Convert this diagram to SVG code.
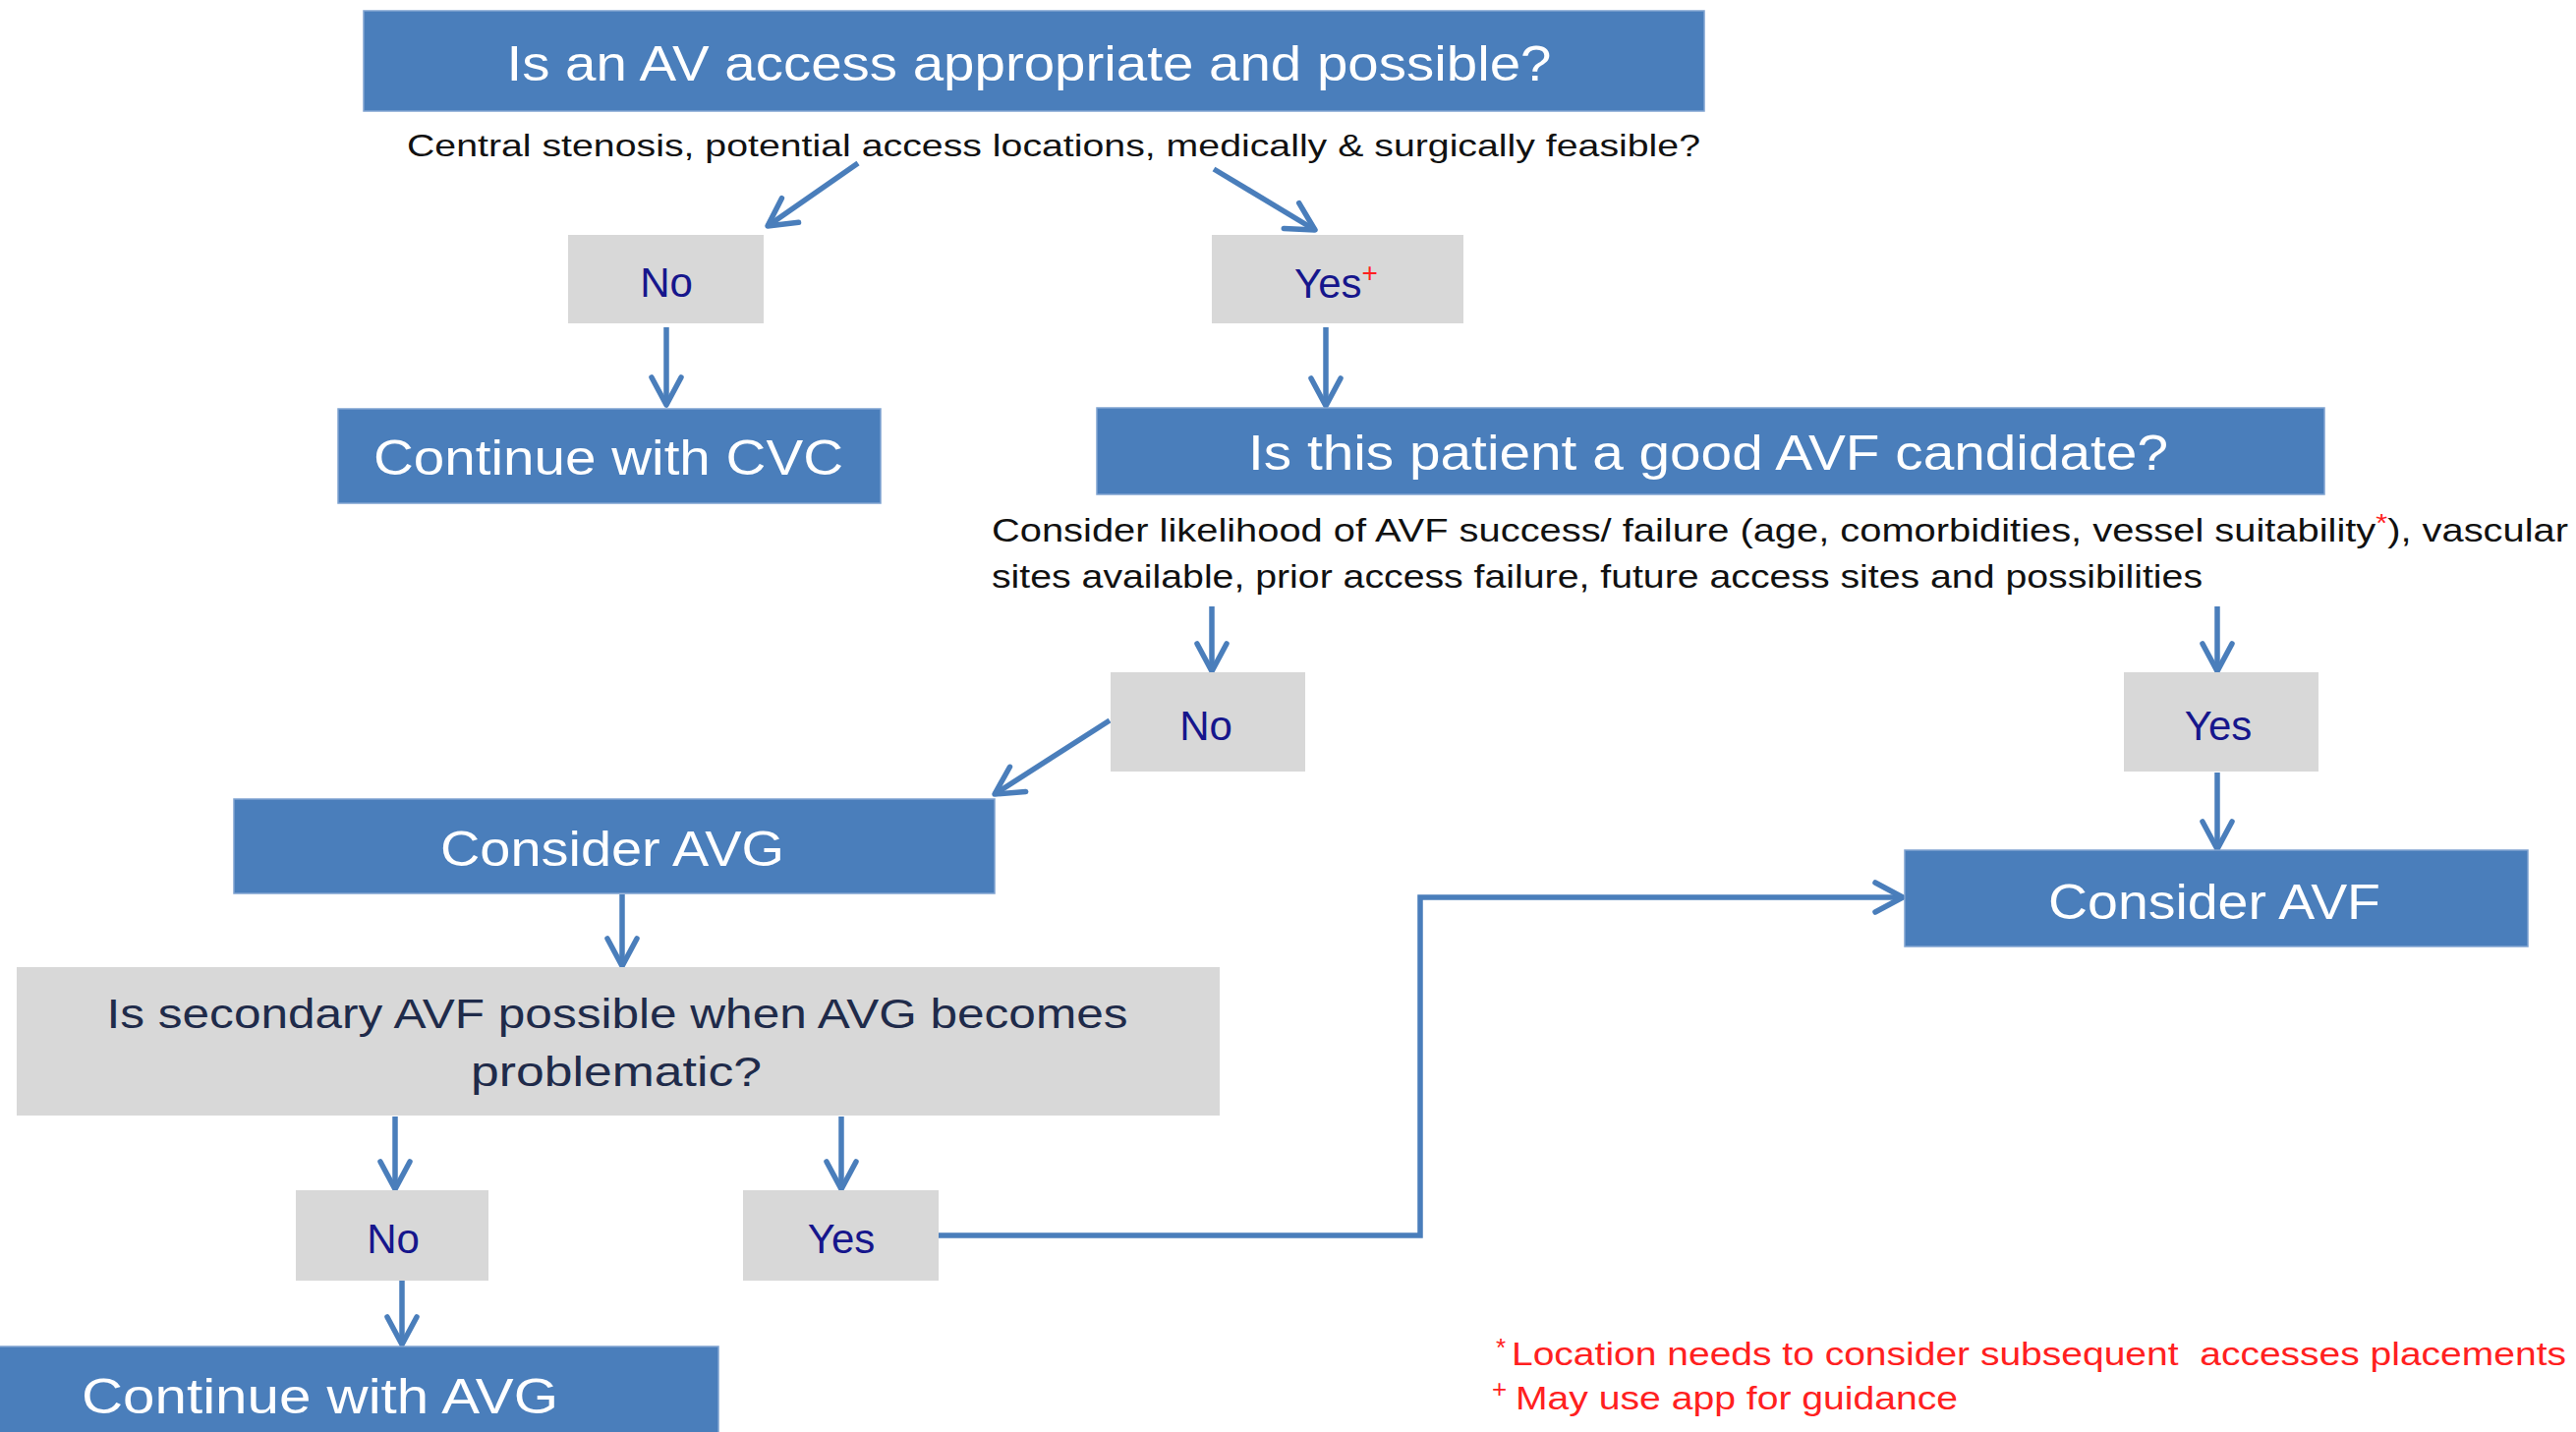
<svg xmlns="http://www.w3.org/2000/svg" width="2621" height="1457" viewBox="0 0 2621 1457">
  <style>
    .blue { fill: #4a7ebb; stroke: #7fa3d1; stroke-width: 1.5; }
    .gray { fill: #d8d8d8; }
    .t { font-family: "Liberation Sans", Arial, sans-serif; }
    .head { fill: #ffffff; font-size: 50px; text-anchor: middle; }
    .ans { fill: #16168c; font-size: 42px; text-anchor: middle; }
    .note { fill: #111111; }
    .q { fill: #1f2b4a; font-size: 42px; text-anchor: middle; }
    .red { fill: #ff2020; }
    .wire { fill: none; stroke: #4a7ebb; stroke-width: 5.5; marker-end: url(#arr); }
  </style>
  <defs>
    <marker id="arr" markerUnits="userSpaceOnUse" markerWidth="44" markerHeight="44" viewBox="0 0 44 44" refX="38" refY="22" orient="auto">
      <path d="M10,7 L38,22 L10,37" fill="none" stroke="#4a7ebb" stroke-width="5.5" stroke-linecap="round" stroke-linejoin="round"/>
    </marker>
  </defs>

  <rect width="2621" height="1457" fill="#ffffff"/>

  <!-- connectors -->
  <g id="connectors">
    <path class="wire" d="M873,166 L781,230"/>
    <path class="wire" d="M1235,172 L1338,234"/>
    <path class="wire" d="M678,333 L678,412"/>
    <path class="wire" d="M1349,333 L1349,413"/>
    <path class="wire" d="M1233,617 L1233,683"/>
    <path class="wire" d="M2256,617 L2256,683"/>
    <path class="wire" d="M1129,733 L1012,808"/>
    <path class="wire" d="M2256,786 L2256,864"/>
    <path class="wire" d="M633,910 L633,983"/>
    <path class="wire" d="M402,1136 L402,1210"/>
    <path class="wire" d="M856,1136 L856,1210"/>
    <path class="wire" d="M409,1303 L409,1368"/>
    <path class="wire" d="M955,1257 L1445,1257 L1445,913 L1936,913" stroke-linejoin="miter"/>
  </g>

  <!-- question: AV access -->
  <g id="q-av-access">
    <rect class="blue" x="370" y="11" width="1364" height="102"/>
    <text class="t head" x="1047" y="82" textLength="1063" lengthAdjust="spacingAndGlyphs">Is an AV access appropriate and possible?</text>
    <text class="t note" x="414" y="159" font-size="32" textLength="1316" lengthAdjust="spacingAndGlyphs">Central stenosis, potential access locations, medically &amp; surgically feasible?</text>
  </g>

  <g id="ans-no-1">
    <rect class="gray" x="578" y="239" width="199" height="90"/>
    <text class="t ans" x="678" y="302">No</text>
  </g>

  <g id="ans-yes-1">
    <rect class="gray" x="1233" y="239" width="256" height="90"/>
    <text class="t" x="1317" y="303" font-size="42" fill="#16168c">Yes<tspan class="red" font-size="28" dy="-16">+</tspan></text>
  </g>

  <g id="continue-cvc">
    <rect class="blue" x="344" y="416" width="552" height="96"/>
    <text class="t head" x="619" y="483" textLength="478" lengthAdjust="spacingAndGlyphs">Continue with CVC</text>
  </g>

  <!-- question: AVF candidate -->
  <g id="q-avf-candidate">
    <rect class="blue" x="1116" y="415" width="1249" height="88"/>
    <text class="t head" x="1738" y="478" textLength="936" lengthAdjust="spacingAndGlyphs">Is this patient a good AVF candidate?</text>
    <text class="t note" x="1009" y="551" font-size="34" textLength="1604" lengthAdjust="spacingAndGlyphs">Consider likelihood of AVF success/ failure (age, comorbidities, vessel suitability<tspan class="red" font-size="26" dy="-10">*</tspan><tspan dy="10">), vascular</tspan></text>
    <text class="t note" x="1009" y="598" font-size="34" textLength="1232" lengthAdjust="spacingAndGlyphs">sites available, prior access failure, future access sites and possibilities</text>
  </g>

  <g id="ans-no-2">
    <rect class="gray" x="1130" y="684" width="198" height="101"/>
    <text class="t ans" x="1227" y="753">No</text>
  </g>

  <g id="ans-yes-2">
    <rect class="gray" x="2161" y="684" width="198" height="101"/>
    <text class="t ans" x="2257" y="753">Yes</text>
  </g>

  <g id="consider-avf">
    <rect class="blue" x="1938" y="865" width="634" height="98"/>
    <text class="t head" x="2253" y="935" textLength="338" lengthAdjust="spacingAndGlyphs">Consider AVF</text>
  </g>

  <g id="consider-avg">
    <rect class="blue" x="238" y="813" width="774" height="96"/>
    <text class="t head" x="623" y="881" textLength="350" lengthAdjust="spacingAndGlyphs">Consider AVG</text>
  </g>

  <!-- question: secondary AVF -->
  <g id="q-secondary-avf">
    <rect class="gray" x="17" y="984" width="1224" height="151"/>
    <text class="t q" x="628" y="1046" textLength="1039" lengthAdjust="spacingAndGlyphs">Is secondary AVF possible when AVG becomes</text>
    <text class="t q" x="627" y="1105" textLength="296" lengthAdjust="spacingAndGlyphs">problematic?</text>
  </g>

  <g id="ans-no-3">
    <rect class="gray" x="301" y="1211" width="196" height="92"/>
    <text class="t ans" x="400" y="1275">No</text>
  </g>

  <g id="ans-yes-3">
    <rect class="gray" x="756" y="1211" width="199" height="92"/>
    <text class="t ans" x="856" y="1275">Yes</text>
  </g>

  <g id="continue-avg">
    <rect class="blue" x="-2" y="1370" width="733" height="90"/>
    <text class="t" x="83" y="1438" font-size="50" fill="#ffffff" textLength="485" lengthAdjust="spacingAndGlyphs">Continue with AVG</text>
  </g>

  <!-- footnotes -->
  <g id="footnotes">
    <text class="t red" x="1522" y="1380" font-size="26">*</text>
    <text class="t red" x="1538" y="1389" font-size="34" xml:space="preserve" textLength="1073" lengthAdjust="spacingAndGlyphs">Location needs to consider subsequent  accesses placements</text>
    <text class="t red" x="1518" y="1422" font-size="26">+</text>
    <text class="t red" x="1542" y="1434" font-size="34" textLength="450" lengthAdjust="spacingAndGlyphs">May use app for guidance</text>
  </g>
</svg>
